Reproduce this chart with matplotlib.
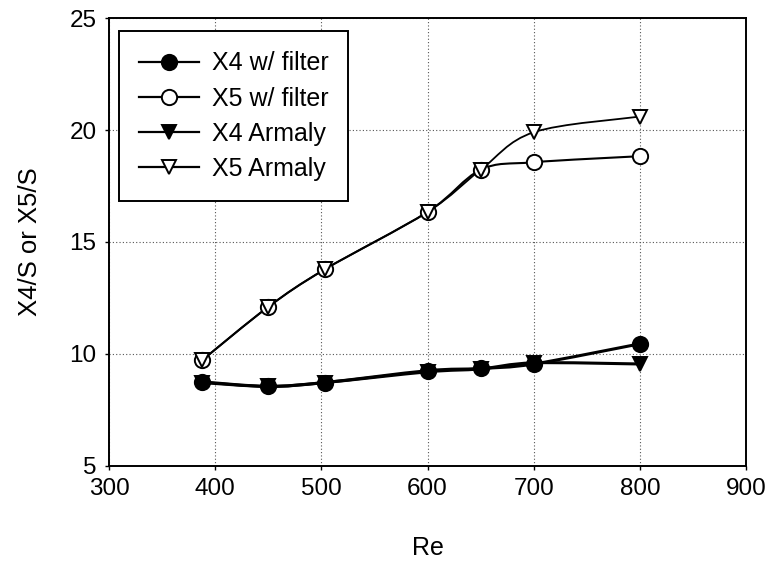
import numpy as np
import matplotlib
matplotlib.use('Agg')
import matplotlib.pyplot as plt
from matplotlib.path import Path
from matplotlib.patches import PathPatch
from matplotlib.lines import Line2D

plt.rcParams['font.family'] = ['Liberation Sans', 'DejaVu Sans']

# Reattachment lengths vs Reynolds number
re = [388, 450, 503, 600, 650, 700, 800]
x4_filter = [8.75, 8.55, 8.72, 9.25, 9.35, 9.55, 10.45]
x5_filter = [9.73, 12.1, 13.77, 16.34, 18.22, 18.56, 18.83]
x4_armaly = [8.72, 8.55, 8.72, 9.2, 9.33, 9.6, 9.55]
x5_armaly = [9.73, 12.1, 13.77, 16.34, 18.22, 19.9, 20.6]

labels = ['X4 w/ filter', 'X5 w/ filter', 'X4 Armaly', 'X5 Armaly']
series = [x4_filter, x5_filter, x4_armaly, x5_armaly]
markers = ['o', 'o', 'v', 'v']
msizes = [11, 11, 10, 10]
faces = ['black', 'white', 'black', 'white']
widths = [2.2, 1.5, 2.2, 1.3]


def smooth_path(x, y):
    # cubic bezier through the points (catmull-rom style control points)
    p = np.column_stack([x, y]).astype(float)
    n = len(p)
    verts = [p[0]]
    codes = [Path.MOVETO]
    for i in range(n - 1):
        p0 = p[i - 1] if i > 0 else p[i]
        p3 = p[i + 2] if i + 2 < n else p[i + 1]
        c1 = p[i] + (p[i + 1] - p0) / 6
        c2 = p[i + 1] - (p3 - p[i]) / 6
        verts += [c1, c2, p[i + 1]]
        codes += [Path.CURVE4] * 3
    return Path(verts, codes)


fig = plt.figure(figsize=(7.71, 5.64), dpi=100)
ax = fig.add_axes([0.1414, 0.174, 0.8262, 0.794])

handles = []
for ys, lab, m, ms, fc, lw in zip(series, labels, markers, msizes, faces, widths):
    ax.add_patch(PathPatch(smooth_path(re, ys), fill=False, edgecolor='black',
                           lw=lw, zorder=3))
    ax.plot(re, ys, linestyle='none', marker=m, markersize=ms,
            markerfacecolor=fc, markeredgecolor='black', markeredgewidth=1.4,
            zorder=4)
    handles.append(Line2D([], [], color='black', lw=1.6, marker=m, markersize=ms,
                          markerfacecolor=fc, markeredgecolor='black',
                          markeredgewidth=1.4))

ax.set_xlim(300, 900)
ax.set_ylim(5, 25)
ax.set_xticks(np.arange(300, 901, 100))
ax.set_yticks(np.arange(5, 26, 5))
ax.grid(True, linestyle=(0, (1, 2)), color='#555555', linewidth=0.8)
ax.set_axisbelow(True)
ax.tick_params(labelsize=17.5, length=3, width=1, colors='black', pad=6)
for s in ax.spines.values():
    s.set_linewidth(1.4)
    s.set_color('black')

ax.set_xlabel('Re', fontsize=18, labelpad=26)
ax.set_ylabel('X4/S or X5/S', fontsize=18.5, labelpad=20)

leg = ax.legend(handles, labels, loc='upper left', bbox_to_anchor=(0.016, 0.97),
                fontsize=18, handlelength=2.4, handletextpad=0.5,
                labelspacing=0.45, borderpad=0.8, fancybox=False,
                framealpha=1, edgecolor='black', borderaxespad=0)
leg.get_frame().set_linewidth(1.4)

fig.savefig('out.png', dpi=100)
